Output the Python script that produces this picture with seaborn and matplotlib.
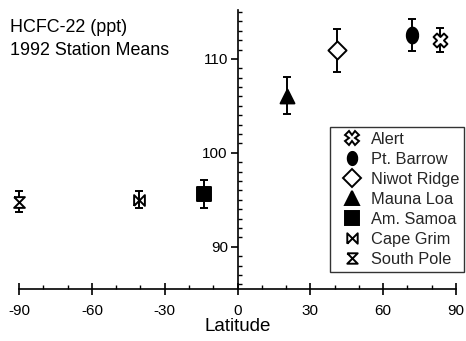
import numpy as np
import pandas as pd
import matplotlib
matplotlib.use("Agg")
import matplotlib.pyplot as plt
import seaborn as sns
from matplotlib.lines import Line2D
from matplotlib.ticker import MultipleLocator, FixedLocator

stations = ["Alert", "Pt. Barrow", "Niwot Ridge", "Mauna Loa", "Am. Samoa", "Cape Grim", "South Pole"]
latitude = [83.5, 72.0, 41.0, 20.5, -14.0, -40.5, -90.0]
hcfc22 = [112.0, 112.5, 110.9, 106.1, 95.6, 95.0, 94.8]
errors = [1.3, 1.7, 2.3, 2.0, 1.5, 0.9, 1.1]
xticks = [-90, -60, -30, 0, 30, 60, 90]
yticks = [90, 100, 110]

sns.set_theme(style="white")
plt.rcParams['font.family'] = ['Liberation Sans', 'DejaVu Sans']

t = np.linspace(0, 2 * np.pi, 40)
ellipse = list(zip(0.72 * np.cos(t), np.sin(t)))
bowtie = [(-1, -1), (-1, 1), (1, -1), (1, 1), (-1, -1)]
hourglass = [(-1, 1), (1, 1), (-1, -1), (1, -1), (-1, 1)]

styles = {
    "Alert": dict(marker="X", face="white", s=100),
    "Pt. Barrow": dict(marker=ellipse, face="black", s=130),
    "Niwot Ridge": dict(marker="D", face="white", s=85),
    "Mauna Loa": dict(marker="^", face="black", s=100),
    "Am. Samoa": dict(marker="s", face="black", s=90),
    "Cape Grim": dict(marker=bowtie, face="white", s=60),
    "South Pole": dict(marker=hourglass, face="white", s=60),
}

df = pd.DataFrame({"station": stations, "lat": latitude, "val": hcfc22, "err": errors})

fig = plt.figure(figsize=(4.66, 3.41), dpi=100)
ax = fig.add_axes([0.041, 0.1525, 0.9375, 0.818])

eb = ax.errorbar(df["lat"], df["val"], yerr=df["err"], fmt="none", ecolor="black",
                 elinewidth=1.4, capsize=3, capthick=1.4, zorder=2)
for art in eb.lines[1] + eb.lines[2]:
    art.set_clip_on(False)

for _, row in df.iterrows():
    st = styles[row["station"]]
    sns.scatterplot(x=[row["lat"]], y=[row["val"]], ax=ax, marker=st["marker"], s=st["s"],
                    color=st["face"], edgecolor="black", linewidth=1.4, zorder=3, clip_on=False)

ax.set_xlim(-90, 90)
ax.set_ylim(85.5, 115.2)
ax.spines["left"].set_position(("data", 0))
ax.spines["top"].set_visible(False)
ax.spines["right"].set_visible(False)
for sp in ["left", "bottom"]:
    ax.spines[sp].set_linewidth(1.2)
    ax.spines[sp].set_color("black")

ax.xaxis.set_major_locator(FixedLocator(xticks))
ax.xaxis.set_minor_locator(MultipleLocator(10))
ax.yaxis.set_major_locator(FixedLocator(yticks))
ax.yaxis.set_minor_locator(MultipleLocator(1))
ax.set_xticklabels([str(v) for v in xticks])
ax.set_yticklabels([str(v) for v in yticks])
ax.tick_params(axis="x", which="major", direction="inout", length=9, width=1.2, labelsize=11, pad=6, colors="black")
ax.tick_params(axis="x", which="minor", direction="in", length=3, width=1.0, colors="black")
ax.tick_params(axis="y", which="major", direction="out", length=5, width=1.2, labelsize=11, pad=2, colors="black")
ax.tick_params(axis="y", which="minor", direction="in", length=3, width=1.0, colors="black")
ax.tick_params(bottom=True, left=True, which="both")

ax.set_xlabel("Latitude", fontsize=13.5, color="black", labelpad=0)
ax.set_ylabel("")

fig.text(0.022, 0.945, "HCFC-22 (ppt)\n1992 Station Means", fontsize=12.9, color="black",
         ha="left", va="top", linespacing=1.5)

handles = [Line2D([], [], linestyle="none", marker=styles[s]["marker"],
                  markersize=9.5 if s not in ("Cape Grim", "South Pole") else 7.5,
                  markerfacecolor=styles[s]["face"], markeredgecolor="black",
                  markeredgewidth=1.4) for s in stations]
leg = ax.legend(handles, stations, loc="upper left", bbox_to_anchor=(0.712, 0.58),
                frameon=True, fontsize=11.8, handlelength=2.1, handletextpad=0.1,
                borderpad=0.3, labelspacing=0.3, fancybox=False, borderaxespad=0)
leg.get_frame().set_edgecolor("black")
leg.get_frame().set_linewidth(1.0)

fig.savefig("out.png", dpi=100)
